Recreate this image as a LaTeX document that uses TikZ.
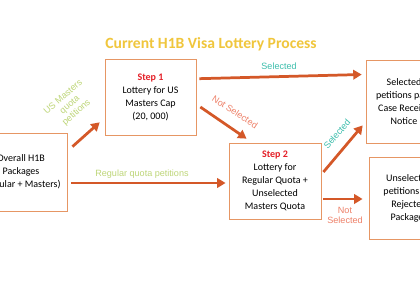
\documentclass[tikz,border=0pt]{standalone}
\usepackage{fontspec}
\setmainfont{Carlito}
\newfontfamily\labelfont{Liberation Sans}
\usepackage{xcolor}
\usetikzlibrary{arrows.meta,calc}

\definecolor{boxline}{RGB}{230,150,100}
\definecolor{arrowred}{RGB}{212,88,40}
\definecolor{steptext}{RGB}{228,32,40}
\definecolor{titlegold}{RGB}{240,198,60}
\definecolor{quotagreen}{RGB}{190,214,120}
\definecolor{selteal}{RGB}{60,190,172}
\definecolor{notselred}{RGB}{238,128,104}

\begin{document}
\begin{tikzpicture}[x=0.03333cm, y=-0.03333cm,
    box/.style={draw=boxline, line width=0.7pt, align=center, inner sep=0pt,
      font=\fontsize{9.5}{12.3}\selectfont},
    flow/.style={-{Triangle[length=8pt,width=9pt]}, line width=2.6pt, arrowred},
    lbl/.style={font=\labelfont\fontsize{8.6}{9.6}\selectfont, align=center, inner sep=0pt}]
    % Frame
    \useasboundingbox (0,0) rectangle (420,280);
    \clip (0,0) rectangle (420,280);
    \fill[white] (0,0) rectangle (420,280);

    % Title
    \node[font=\bfseries\fontsize{14.8}{17}\selectfont, titlegold] (title) at (211,44)
      {Current H1B Visa Lottery Process};

    % Boxes
    \node[box, minimum width=3.07cm, minimum height=2.6cm] (over) at (21,172)
      {Overall H1B\\ Packages\\ (Regular + Masters)};
    \node[box, minimum width=3.03cm, minimum height=2.53cm] (step1) at (150.5,97)
      {\textcolor{steptext}{\textbf{Step 1}}\\ Lottery for US\\ Masters Cap\\ (20, 000)};
    \node[box, minimum width=3.07cm, minimum height=2.53cm] (step2) at (275,181)
      {\textcolor{steptext}{\textbf{Step 2}}\\ Lottery for\\ Regular Quota +\\ Unselected\\ Masters Quota};
    \node[box, minimum width=2.53cm, minimum height=2.77cm] (sel) at (404,101.5)
      {Selected\\ petitions pass\\ Case Receipt\\ Notice};
    \node[box, minimum width=2.67cm, minimum height=2.73cm] (unsel) at (409,198)
      {Unselected\\ petitions get\\ Rejected\\ Packages};

    % Arrows
    \draw[flow] ($(over.north east)+(5,14)$) -- ($(step1.south west)+(-5,-13)$);
    \draw[flow] ($(over.east)+(4,11)$) -- ($(step2.west)+(-3,2)$);
    \draw[flow] ($(step1.north east)+(3,20)$) -- ($(sel.west)+(-4,-27)$);
    \draw[flow] ($(step1.east)+(4,10)$) -- ($(step2.north west)+(18,-4)$);
    \draw[flow] ($(step2.east)+(2,-9)$) -- ($(sel.south west)+(-3,-18)$);
    \draw[flow] ($(step2.east)+(2,18)$) -- ($(unsel.west)+(-6,1)$);

    % Arrow labels
    \node[lbl, quotagreen, rotate=41] (usquota) at (70,105) {US Masters\\ quota\\ petitions};
    \node[lbl, quotagreen] (regquota) at (142,174) {Regular quota petitions};
    \node[lbl, selteal, rotate=1] (selone) at (279,66) {Selected};
    \node[lbl, notselred, rotate=-33] (notselone) at (235,112) {Not Selected};
    \node[lbl, selteal, rotate=49] (seltwo) at (337,134) {Selected};
    \node[lbl, notselred] (notseltwo) at (345,215) {Not\\ Selected};
\end{tikzpicture}
\end{document}
